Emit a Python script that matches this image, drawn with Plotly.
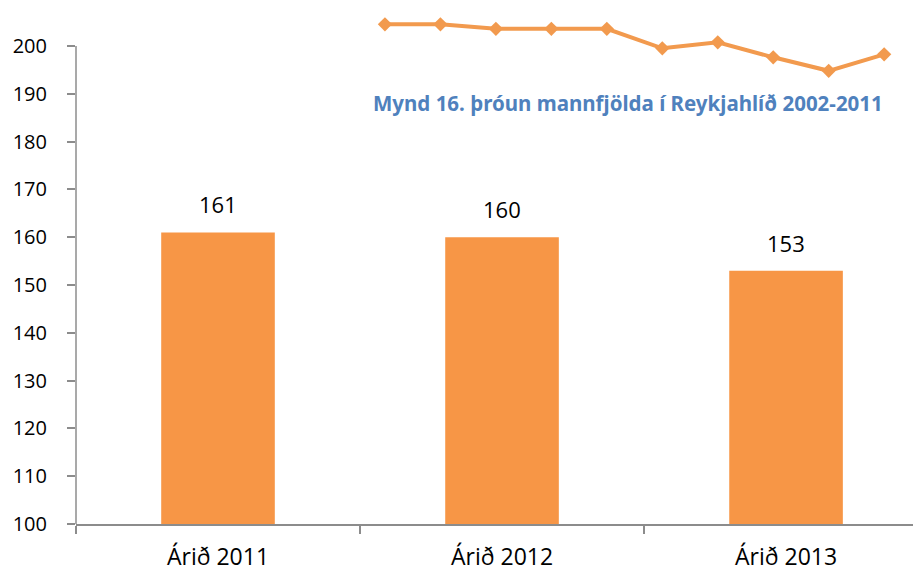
import plotly.graph_objects as go

# Bar chart data
categories = ["Árið 2011", "Árið 2012", "Árið 2013"]
values = [161, 160, 153]
y_ticks = [100, 110, 120, 130, 140, 150, 160, 170, 180, 190, 200]

# Inset line (Mynd 16) data
line_years = [2002, 2003, 2004, 2005, 2006, 2007, 2008, 2009, 2010, 2011]
line_values = [225, 225, 222, 222, 222, 209, 213, 203, 194, 205]
line_title = "Mynd 16. þróun mannfjölda í Reykjahlíð 2002-2011"

BAR = "#F79646"
AXIS = "#8C8C8C"

fig = go.Figure()
fig.add_trace(go.Bar(
    x=categories, y=values, width=0.4,
    marker=dict(color=BAR, line=dict(width=0)),
    showlegend=False,
))
fig.add_trace(go.Scatter(
    x=line_years, y=line_values, xaxis="x2", yaxis="y2",
    mode="lines+markers",
    line=dict(color="#F29A4E", width=4),
    marker=dict(symbol="diamond", size=11, color="#F29A4E"),
    showlegend=False,
))

for c, v in zip(categories, values):
    fig.add_annotation(x=c, y=v, text=str(v), showarrow=False,
                       yanchor="bottom", yshift=11,
                       font=dict(family="Open Sans", size=22, color="#000000"))

fig.add_annotation(xref="paper", yref="paper", x=0.659, y=0.8034,
                   text="<b>" + line_title + "</b>", showarrow=False,
                   xanchor="center", yanchor="middle",
                   font=dict(family="Noto Sans", size=20.5, color="#4F81BD"))

# y axis line from first to last tick
fig.add_shape(type="line", xref="paper", yref="y", x0=0, x1=0,
              y0=y_ticks[0], y1=y_ticks[-1],
              line=dict(color=AXIS, width=1.5))

fig.update_layout(
    width=913, height=577,
    margin=dict(l=76, r=0, t=0, b=53, autoexpand=False),
    plot_bgcolor="white", paper_bgcolor="white",
    bargap=0.6,
    xaxis=dict(
        type="category", range=[-0.5, 2.447], automargin=False,
        showline=True, linecolor=AXIS, linewidth=1.5,
        ticks="outside", tickson="boundaries", ticklen=8, tickcolor=AXIS, tickwidth=1.5,
        showgrid=False, zeroline=False,
        tickfont=dict(family="Open Sans", size=23, color="#000000"),
        ticklabelstandoff=12,
    ),
    yaxis=dict(
        range=[100, 100 + 524 / 4.78], automargin=False,
        tickvals=y_ticks, ticktext=[str(t) for t in y_ticks],
        showline=False, showgrid=False, zeroline=False,
        ticks="outside", ticklen=8, tickcolor=AXIS, tickwidth=1.5,
        tickfont=dict(family="Open Sans", size=20, color="#000000"),
        ticklabelstandoff=16,
    ),
    xaxis2=dict(overlaying="x", range=[1996.43, 2011.52], visible=False),
    yaxis2=dict(overlaying="y", range=[-108.1, 241.2], visible=False),
)

fig.write_html("out.html", config={"displayModeBar": False},
               post_script="document.body.style.margin='0';document.body.style.overflow='hidden';")
